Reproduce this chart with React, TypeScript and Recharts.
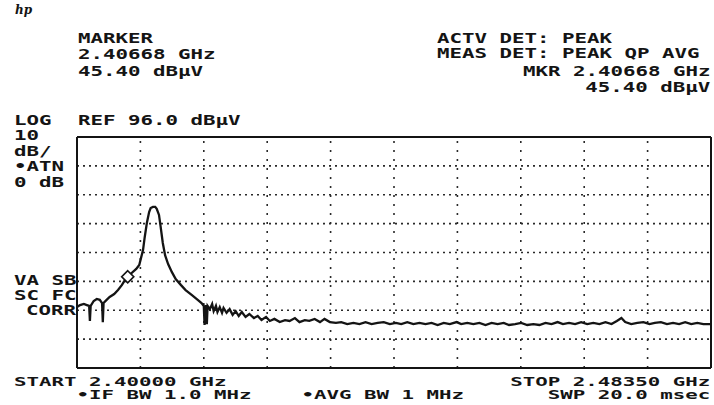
import { Line, LineChart, ReferenceDot, ReferenceLine, XAxis, YAxis } from 'recharts'

const freqMHz = [
  2400.0, 2400.4, 2400.9, 2401.3, 2401.6, 2401.7, 2401.8, 2402.2, 2402.6, 2403.0,
  2403.3, 2403.4, 2403.5, 2403.9, 2404.3, 2404.9, 2405.4, 2405.9, 2406.4, 2406.7,
  2407.2, 2407.8, 2408.2, 2408.4, 2408.7, 2408.9, 2409.2, 2409.5, 2409.7, 2410.0,
  2410.3, 2410.5, 2410.8, 2411.0, 2411.3, 2411.6, 2412.0, 2412.5, 2413.0, 2413.7,
  2414.3, 2415.1, 2415.9, 2416.4, 2416.7, 2416.8, 2417.0, 2417.1, 2417.2, 2417.5,
  2417.8, 2418.0, 2418.3, 2418.5, 2418.8, 2419.1, 2419.3, 2419.7, 2420.1, 2420.5,
  2420.9, 2421.3, 2421.7, 2422.2, 2422.7, 2423.3, 2423.8, 2424.3, 2424.9, 2425.4,
  2426.0, 2426.7, 2427.4, 2428.0, 2428.7, 2429.3, 2430.0, 2430.6, 2431.3, 2432.0,
  2432.6, 2433.3, 2434.1, 2434.8, 2435.6, 2436.4, 2437.2, 2438.0, 2438.8, 2439.6,
  2440.4, 2441.2, 2442.0, 2442.7, 2443.5, 2444.3, 2445.1, 2445.9, 2446.7, 2447.5,
  2448.3, 2449.1, 2450.0, 2450.6, 2451.4, 2452.2, 2453.0, 2453.8, 2454.6, 2455.4,
  2456.2, 2456.9, 2457.7, 2458.5, 2459.3, 2460.1, 2460.9, 2461.7, 2462.5, 2463.3,
  2464.0, 2464.8, 2465.6, 2466.4, 2467.2, 2468.0, 2468.8, 2469.6, 2470.4, 2471.1,
  2471.7, 2472.2, 2473.0, 2473.8, 2474.6, 2475.4, 2476.1, 2476.9, 2477.7, 2478.5,
  2479.3, 2480.1, 2480.9, 2481.7, 2482.5, 2483.5,
]
const levelDbuV = [
  37.1, 37.8, 38.2, 37.8, 37.5, 32.3, 37.5, 39.2, 39.9, 39.6,
  38.5, 31.9, 38.5, 39.6, 40.6, 41.6, 43.0, 44.7, 46.8, 47.5,
  48.9, 50.3, 51.7, 53.8, 56.9, 61.0, 66.2, 70.0, 71.4, 71.8,
  71.8, 71.1, 69.0, 65.2, 59.3, 55.1, 52.0, 49.2, 46.8, 44.7,
  43.0, 41.3, 39.6, 38.5, 37.5, 30.9, 37.8, 31.2, 37.5, 36.4,
  38.2, 35.7, 37.5, 35.4, 37.1, 35.1, 36.8, 35.1, 36.4, 34.4,
  35.7, 34.0, 35.4, 33.7, 34.7, 33.3, 34.0, 32.6, 33.7, 32.3,
  33.0, 31.9, 32.6, 32.3, 33.3, 31.9, 32.6, 32.3, 33.0, 31.9,
  33.0, 31.9, 31.6, 31.9, 31.2, 31.6, 31.2, 31.9, 31.2, 31.6,
  31.9, 31.2, 31.6, 31.2, 31.9, 31.2, 31.6, 31.2, 31.6, 30.9,
  31.6, 31.2, 31.9, 31.2, 31.6, 31.2, 31.6, 30.9, 31.6, 31.2,
  31.6, 30.9, 31.2, 31.6, 30.9, 31.2, 30.9, 31.6, 31.2, 31.9,
  31.2, 31.6, 31.2, 31.9, 31.2, 31.6, 31.2, 31.9, 31.2, 32.3,
  33.3, 31.9, 31.2, 31.6, 31.9, 31.2, 31.6, 31.9, 31.2, 31.6,
  31.2, 31.9, 31.2, 31.6, 31.2, 31.2,
]

const startMHz = 2400.0
const stopMHz = 2483.5
const refLevel = 96
const bottomLevel = 16
const dbPerDiv = 10
const xDivs = [2408.35, 2416.7, 2425.05, 2433.4, 2441.75, 2450.1, 2458.45, 2466.8, 2475.15]
const yDivs = [26, 36, 46, 56, 66, 76, 86]

const markerMHz = 2406.68
const markerTraceLevel = 47.6

const data = freqMHz.map((f, i) => ({ f, lvl: levelDbuV[i] }))

const ink = '#141414'
const dots = '#2a2a2a'

function T({
  x,
  y,
  right,
  size = 14,
  children,
}: {
  x: number
  y: number
  right?: boolean
  size?: number
  children: string
}) {
  return (
    <div
      style={{
        position: 'absolute',
        top: y - 6,
        left: right ? undefined : x,
        right: right ? 714 - x : undefined,
        fontFamily: '"DejaVu Sans Mono", monospace',
        fontWeight: 'bold',
        fontSize: size,
        lineHeight: '13px',
        whiteSpace: 'pre',
        textAlign: right ? 'right' : 'left',
        color: ink,
        transform: `scaleX(${(12.5 / (0.602 * size)).toFixed(3)})`,
        transformOrigin: right ? 'right top' : 'left top',
      }}
    >
      {children}
    </div>
  )
}

const Diamond = (p: any) => {
  const { cx, cy } = p
  const r = 6
  return (
    <path
      d={`M${cx},${cy - r}L${cx + r},${cy}L${cx},${cy + r}L${cx - r},${cy}Z`}
      fill="#fff"
      stroke={ink}
      strokeWidth={1.7}
    />
  )
}

export default function App() {
  return (
    <div style={{ position: 'absolute', left: 0, top: 0, width: 714, height: 405, background: '#fff' }}>
      <div
        style={{
          position: 'absolute',
          left: 15,
          top: 3,
          fontFamily: '"DejaVu Serif", serif',
          fontStyle: 'italic',
          fontWeight: 'bold',
          fontSize: 12,
          color: ink,
        }}
      >
        hp
      </div>

      <T x={78} y={38}>MARKER</T>
      <T x={78} y={54}>2.40668 GHz</T>
      <T x={78} y={71}>45.40 dBµV</T>

      <T x={437} y={38}>ACTV DET: PEAK</T>
      <T x={437} y={53}>MEAS DET: PEAK QP AVG</T>
      <T x={710} y={71} right>MKR 2.40668 GHz</T>
      <T x={710} y={87} right>45.40 dBµV</T>

      <T x={14} y={120}>LOG</T>
      <T x={78} y={120}>{`REF ${refLevel.toFixed(1)} dBµV`}</T>
      <T x={14} y={135}>{String(dbPerDiv)}</T>
      <T x={14} y={151}>dB/</T>
      <T x={14} y={166}>•ATN</T>
      <T x={14} y={182}>0 dB</T>
      <T x={14} y={280}>VA SB</T>
      <T x={14} y={295}>SC FC</T>
      <T x={26} y={310}>CORR</T>

      <T x={14} y={381} size={13}>{'START 2.40000 GHz\n     •IF BW 1.0 MHz    •AVG BW 1 MHz'}</T>
      <T x={710} y={381} right size={13}>{'STOP 2.48350 GHz\nSWP 20.0 msec'}</T>

      <div style={{ position: 'absolute', left: 0, top: 0 }}>
        <LineChart width={714} height={405} data={data} margin={{ top: 137, left: 77, right: 3, bottom: 37 }}>
          <XAxis
            type="number"
            dataKey="f"
            domain={[startMHz, stopMHz]}
            tick={false}
            tickLine={false}
            height={0}
            axisLine={false}
          />
          <YAxis
            type="number"
            domain={[bottomLevel, refLevel]}
            tick={false}
            tickLine={false}
            width={0}
            axisLine={false}
          />
          {/* dotted graticule */}
          {yDivs.map((v) => (
            <ReferenceLine key={'h' + v} y={v} stroke={dots} strokeWidth={1.6} strokeDasharray="2 4" />
          ))}
          {xDivs.map((v) => (
            <ReferenceLine key={'v' + v} x={v} stroke={dots} strokeWidth={1.6} strokeDasharray="2 7" />
          ))}
          {/* frame */}
          <ReferenceLine y={refLevel} stroke={ink} strokeWidth={2} />
          <ReferenceLine y={bottomLevel} stroke={ink} strokeWidth={2} />
          <ReferenceLine x={startMHz} stroke={ink} strokeWidth={2} />
          <ReferenceLine x={stopMHz} stroke={ink} strokeWidth={2} />
          <Line
            dataKey="lvl"
            type="linear"
            stroke={ink}
            strokeWidth={2.3}
            dot={false}
            isAnimationActive={false}
          />
          <ReferenceDot x={markerMHz} y={markerTraceLevel} r={6} shape={Diamond} />
        </LineChart>
      </div>
    </div>
  )
}
